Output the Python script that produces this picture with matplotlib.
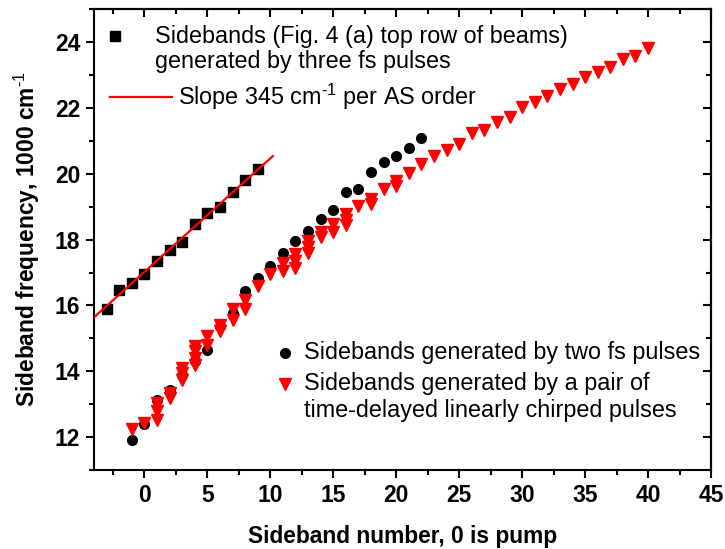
import matplotlib
matplotlib.use("Agg")
import matplotlib.pyplot as plt
from matplotlib.ticker import MultipleLocator

plt.rcParams['font.family'] = ['Liberation Sans', 'DejaVu Sans']
plt.rcParams['mathtext.fontset'] = 'custom'
plt.rcParams['mathtext.rm'] = 'Liberation Sans'
plt.rcParams['mathtext.bf'] = 'Liberation Sans:bold'
plt.rcParams['mathtext.default'] = 'regular'

# Sidebands generated by three fs pulses (squares)
sq_x = [-3, -2, -1, 0, 1, 2, 3, 4, 5, 6, 7, 8, 9]
sq_y = [15.90, 16.46, 16.67, 16.97, 17.34, 17.70, 17.94, 18.48, 18.82, 18.98, 19.45, 19.82, 20.14]

# Slope line: 345 cm^-1 per AS order
slope = 0.345
intercept = 17.02
line_x = [-4, 10.2]

# Sidebands generated by two fs pulses (circles)
ci_x = [-1, 0, 1, 2, 3, 4, 5, 6, 7, 8, 9, 10, 11, 12, 13, 14, 15, 16, 17, 18, 19, 20, 21, 22]
ci_y = [11.91, 12.41, 13.14, 13.44, 13.88, 14.30, 14.66, 15.37, 15.78, 16.43, 16.84, 17.21,
        17.58, 17.96, 18.26, 18.64, 18.90, 19.45, 19.55, 20.06, 20.35, 20.55, 20.80, 21.09]

# Sidebands generated by time-delayed linearly chirped pulses (triangles)
tr_x = [-1, 0, 1, 1, 1, 2, 2, 3, 3, 3, 4, 4, 4, 4, 5, 5, 6, 6, 7, 7, 8, 8, 9, 10,
        11, 11, 12, 12, 12, 13, 13, 13, 14, 14, 15, 15, 16, 16, 16, 17, 18, 18, 19,
        20, 20, 21, 22, 23, 24, 25, 26, 27, 28, 29, 30, 31, 32, 33, 34, 35, 36, 37,
        38, 39, 40]
tr_y = [12.24, 12.44, 13.05, 12.80, 12.53, 13.34, 13.19, 14.10, 13.95, 13.75,
        14.76, 14.61, 14.41, 14.20, 15.06, 14.81, 15.42, 15.22, 15.88, 15.55,
        16.18, 15.88, 16.59, 16.97, 17.28, 17.04, 17.57, 17.34, 17.15,
        17.96, 17.78, 17.58, 18.22, 18.08, 18.47, 18.22, 18.77, 18.60, 18.44,
        19.02, 19.25, 19.08, 19.55, 19.79, 19.62, 20.04, 20.29, 20.53, 20.72,
        20.92, 21.24, 21.33, 21.58, 21.74, 22.03, 22.17, 22.37, 22.58, 22.73,
        22.94, 23.11, 23.24, 23.49, 23.57, 23.82]

x_ticks = [0, 5, 10, 15, 20, 25, 30, 35, 40, 45]
y_ticks = [12, 14, 16, 18, 20, 22, 24]

fig = plt.figure(figsize=(7.25, 5.49), dpi=100)
ax = fig.add_axes([0.1297, 0.1439, 0.8510, 0.8391])

ax.plot(line_x, [intercept + slope * v for v in line_x], color='#FF0000', lw=1.6, zorder=3)
ax.plot(sq_x, sq_y, ls='none', marker='s', ms=6.8, color='black', zorder=2)
ax.plot(ci_x, ci_y, ls='none', marker='o', ms=7, color='black', zorder=2)
ax.plot(tr_x, tr_y, ls='none', marker='v', ms=8.5, color='#FF0000', zorder=4)

ax.set_xlim(-4, 45)
ax.set_ylim(11, 25)
ax.set_xticks(x_ticks)
ax.set_yticks(y_ticks)
ax.xaxis.set_minor_locator(MultipleLocator(2.5))
ax.yaxis.set_minor_locator(MultipleLocator(1))
ax.tick_params(which='both', direction='out', width=1.5, top=False, right=False)
ax.tick_params(which='major', length=6, pad=4, labelsize=16.5)
ax.tick_params(which='minor', length=3.6)
for lab in ax.get_xticklabels() + ax.get_yticklabels():
    lab.set_fontweight('bold')
for s in ax.spines.values():
    s.set_linewidth(1.5)

# mirrored inward ticks on top / right
sec_x = ax.secondary_xaxis('top')
sec_x.set_xticks(x_ticks)
sec_x.xaxis.set_minor_locator(MultipleLocator(2.5))
sec_x.tick_params(which='both', direction='in', width=1.5, labeltop=False)
sec_x.tick_params(which='major', length=6)
sec_x.tick_params(which='minor', length=3.6)
sec_x.spines['top'].set_linewidth(1.5)
sec_y = ax.secondary_yaxis('right')
sec_y.set_yticks(y_ticks)
sec_y.yaxis.set_minor_locator(MultipleLocator(1))
sec_y.tick_params(which='both', direction='in', width=1.5, labelright=False)
sec_y.tick_params(which='major', length=6)
sec_y.tick_params(which='minor', length=3.6)
sec_y.spines['right'].set_linewidth(1.5)

ax.set_xlabel('Sideband number, 0 is pump', fontsize=16.4, fontweight='bold', labelpad=13)
ax.set_ylabel(r'Sideband frequency, 1000 cm$^{\text{-1}}$', fontsize=16.4, fontweight='bold', labelpad=9)

# legends (drawn manually to match the layout)
fs = 16.8
T = ax.transAxes
ax.plot([0.034], [0.942], marker='s', ms=6.8, color='black', transform=T, clip_on=False)
ax.text(0.099, 0.942, 'Sidebands (Fig. 4 (a) top row of beams)', transform=T, fontsize=fs, va='center', ha='left')
ax.text(0.099, 0.886, 'generated by three fs pulses', transform=T, fontsize=fs, va='center', ha='left')
ax.plot([0.026, 0.126], [0.810, 0.810], color='#FF0000', lw=1.6, transform=T)
ax.text(0.136, 0.810, r'Slope 345 cm$^{\text{-1}}$ per AS order', transform=T, fontsize=fs, va='center', ha='left')

ax.plot([0.310], [0.254], marker='o', ms=7, color='black', transform=T)
ax.text(0.340, 0.254, 'Sidebands generated by two fs pulses', transform=T, fontsize=fs, va='center', ha='left')
ax.plot([0.310], [0.187], marker='v', ms=8.5, color='#FF0000', transform=T)
ax.text(0.340, 0.187, 'Sidebands generated by a pair of', transform=T, fontsize=fs, va='center', ha='left')
ax.text(0.340, 0.130, 'time-delayed linearly chirped pulses', transform=T, fontsize=fs, va='center', ha='left')

fig.savefig('out.png', dpi=100)
